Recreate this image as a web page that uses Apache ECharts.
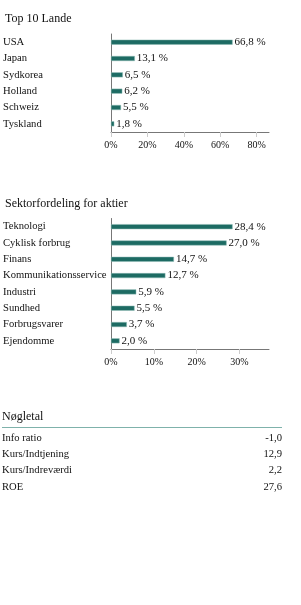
<!DOCTYPE html>
<html>
<head>
<meta charset="utf-8">
<script src="https://cdn.jsdelivr.net/npm/echarts@6/dist/echarts.min.js"></script>
<style>
  html, body { margin: 0; padding: 0; background: #fff; }
  #chart { width: 301px; height: 605px; }
</style>
</head>
<body>
<div id="chart"></div>
<script>
// data
const landeNames = ["USA", "Japan", "Sydkorea", "Holland", "Schweiz", "Tyskland"]
const landeValues = [66.8, 13.1, 6.5, 6.2, 5.5, 1.8]
const landeTicks = ["0%", "20%", "40%", "60%", "80%"]

const sektorNames = ["Teknologi", "Cyklisk forbrug", "Finans", "Kommunikationsservice",
  "Industri", "Sundhed", "Forbrugsvarer", "Ejendomme"]
const sektorValues = [28.4, 27.0, 14.7, 12.7, 5.9, 5.5, 3.7, 2.0]
const sektorTicks = ["0%", "10%", "20%", "30%"]

const noegleNames = ["Info ratio", "Kurs/Indtjening", "Kurs/Indreværdi", "ROE"]
const noegleValues = ["-1,0", "12,9", "2,2", "27,6"]

const FONT = "Liberation Serif"
const TEAL = "#1d6b63"
const TXT = "#111"

let fmt = v => v.toFixed(1).replace(".", ",") + " %"

function xAxisFor(gridIndex, max, ticks) {
  return {
    gridIndex: gridIndex,
    type: "value",
    min: 0,
    max: max,
    interval: gridIndex === 0 ? 20 : 10,
    splitLine: { show: false },
    axisLine: { show: true, lineStyle: { color: "#777", width: 1 } },
    axisTick: { show: true, length: 5, lineStyle: { color: "#ccc" } },
    axisLabel: {
      color: TXT, fontFamily: FONT, fontSize: 10, margin: 8,
      showMaxLabel: false,
      formatter: (v, i) => ticks[i] || ""
    }
  }
}

function yAxisFor(gridIndex, names) {
  return {
    gridIndex: gridIndex,
    type: "category",
    inverse: true,
    data: names,
    axisLine: { show: true, lineStyle: { color: "#777", width: 1 } },
    axisTick: { show: false },
    axisLabel: {
      color: TXT, fontFamily: FONT, fontSize: 10.6,
      align: "left", margin: 108
    }
  }
}

function barSeries(idx, values) {
  return {
    type: "bar",
    xAxisIndex: idx,
    yAxisIndex: idx,
    data: values,
    barWidth: 5,
    itemStyle: { color: TEAL, borderColor: "#8fbab4", borderWidth: 0.5 },
    label: {
      show: true, position: "right", distance: 2,
      color: TXT, fontFamily: FONT, fontSize: 11,
      formatter: p => fmt(p.value)
    },
    silent: true,
    animation: false
  }
}

// key figures table as graphic text
let tableEls = [
  {
    type: "text", left: 2, top: 411,
    style: { text: "Nøgletal", font: "12px " + FONT, fill: TXT }
  },
  {
    type: "line",
    shape: { x1: 2, y1: 427.5, x2: 282, y2: 427.5 },
    style: { stroke: "#7fb2ab", lineWidth: 1 }
  }
]
noegleNames.forEach((n, i) => {
  let y = 438 + i * 16.3
  tableEls.push({
    type: "text", x: 2, y: y,
    style: { text: n, font: "10.6px " + FONT, fill: TXT, verticalAlign: "middle" }
  })
  tableEls.push({
    type: "text", x: 282, y: y,
    style: { text: noegleValues[i], font: "10.6px " + FONT, fill: TXT,
      align: "right", verticalAlign: "middle" }
  })
})

const chart = echarts.init(document.getElementById("chart"))
chart.setOption({
  animation: false,
  backgroundColor: "#fff",
  title: [
    { text: "Top 10 Lande", left: 0, top: 8,
      textStyle: { fontFamily: FONT, fontSize: 12, fontWeight: "normal", color: TXT } },
    { text: "Sektorfordeling for aktier", left: 0, top: 193,
      textStyle: { fontFamily: FONT, fontSize: 12, fontWeight: "normal", color: TXT } }
  ],
  grid: [
    { left: 110, right: 32, top: 34, height: 98 },
    { left: 110, right: 32, top: 218.5, height: 130.5 }
  ],
  xAxis: [xAxisFor(0, 86.8, landeTicks), xAxisFor(1, 36.9, sektorTicks)],
  yAxis: [yAxisFor(0, landeNames), yAxisFor(1, sektorNames)],
  series: [barSeries(0, landeValues), barSeries(1, sektorValues)],
  graphic: tableEls
})
</script>
</body>
</html>
